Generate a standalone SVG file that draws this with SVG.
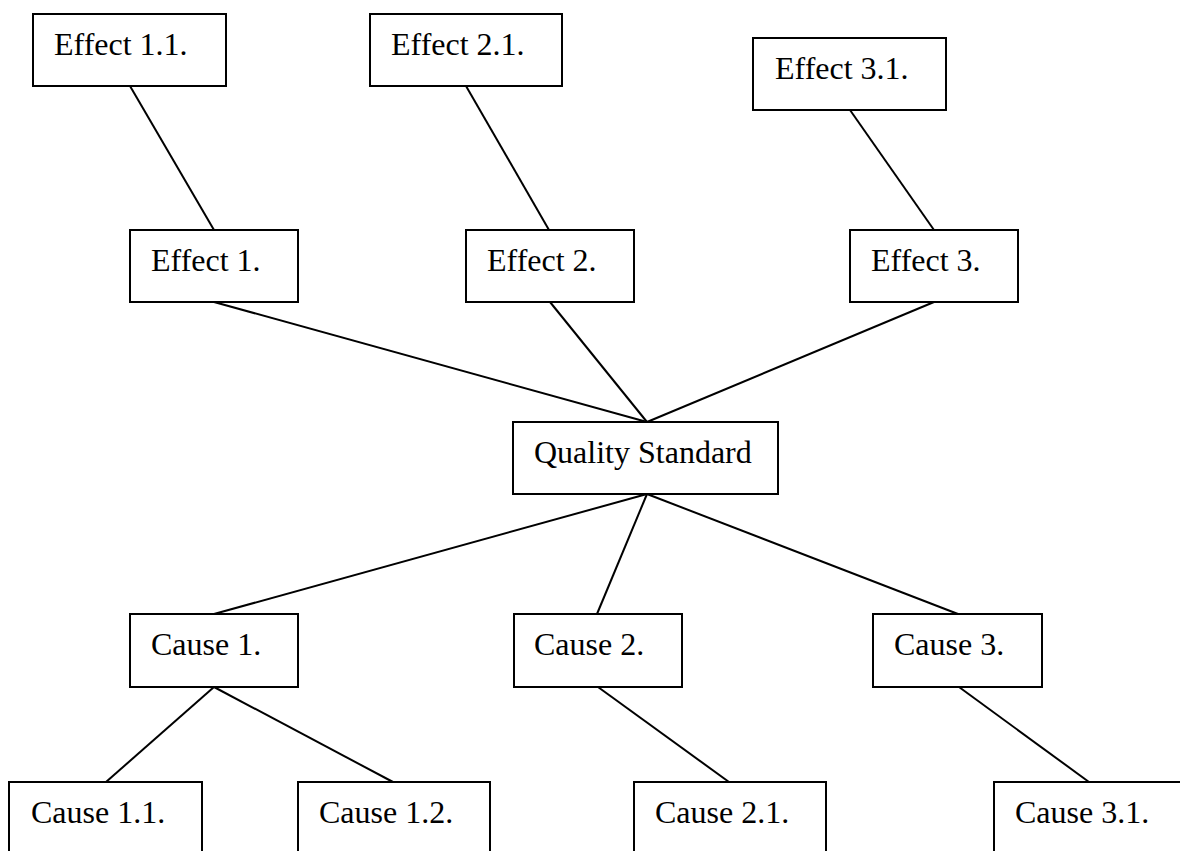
<svg xmlns="http://www.w3.org/2000/svg" width="1180" height="851" viewBox="0 0 1180 851">
<style>
rect.box{fill:#fff;stroke:#000;stroke-width:2}
line{stroke:#000;stroke-width:2}
text{font-family:"Liberation Serif","Times New Roman",serif;font-size:32px;fill:#000}
</style>
<rect width="1180" height="851" fill="#fff"/>
<g id="connectors">
<line x1="130" y1="86" x2="214" y2="230"/>
<line x1="466" y1="86" x2="549" y2="230"/>
<line x1="850" y1="110" x2="934" y2="230"/>
<line x1="214" y1="302" x2="647" y2="422"/>
<line x1="550" y1="302" x2="647" y2="422"/>
<line x1="934" y1="302" x2="647" y2="422"/>
<line x1="647" y1="494" x2="214" y2="614"/>
<line x1="647" y1="494" x2="597" y2="614"/>
<line x1="647" y1="494" x2="958" y2="614"/>
<line x1="214" y1="687" x2="106" y2="782"/>
<line x1="214" y1="687" x2="393" y2="782"/>
<line x1="598" y1="687" x2="729" y2="782"/>
<line x1="959" y1="687" x2="1089" y2="782"/>
</g>
<g id="effect11"><rect class="box" x="33" y="14" width="193" height="72"/><text x="54" y="55">Effect 1.1.</text></g>
<g id="effect21"><rect class="box" x="370" y="14" width="192" height="72"/><text x="391" y="55">Effect 2.1.</text></g>
<g id="effect31"><rect class="box" x="753" y="38" width="193" height="72"/><text x="775" y="79">Effect 3.1.</text></g>
<g id="effect1"><rect class="box" x="130" y="230" width="168" height="72"/><text x="151" y="271">Effect 1.</text></g>
<g id="effect2"><rect class="box" x="466" y="230" width="168" height="72"/><text x="487" y="271">Effect 2.</text></g>
<g id="effect3"><rect class="box" x="850" y="230" width="168" height="72"/><text x="871" y="271">Effect 3.</text></g>
<g id="quality"><rect class="box" x="513" y="422" width="265" height="72"/><text x="534" y="463">Quality Standard</text></g>
<g id="cause1"><rect class="box" x="130" y="614" width="168" height="73"/><text x="151" y="655">Cause 1.</text></g>
<g id="cause2"><rect class="box" x="514" y="614" width="168" height="73"/><text x="534" y="655">Cause 2.</text></g>
<g id="cause3"><rect class="box" x="873" y="614" width="169" height="73"/><text x="894" y="655">Cause 3.</text></g>
<g id="cause11"><rect class="box" x="9" y="782" width="193" height="80"/><text x="31" y="823">Cause 1.1.</text></g>
<g id="cause12"><rect class="box" x="298" y="782" width="192" height="80"/><text x="319" y="823">Cause 1.2.</text></g>
<g id="cause21"><rect class="box" x="634" y="782" width="192" height="80"/><text x="655" y="823">Cause 2.1.</text></g>
<g id="cause31"><rect class="box" x="994" y="782" width="193" height="80"/><text x="1015" y="823">Cause 3.1.</text></g>
</svg>
